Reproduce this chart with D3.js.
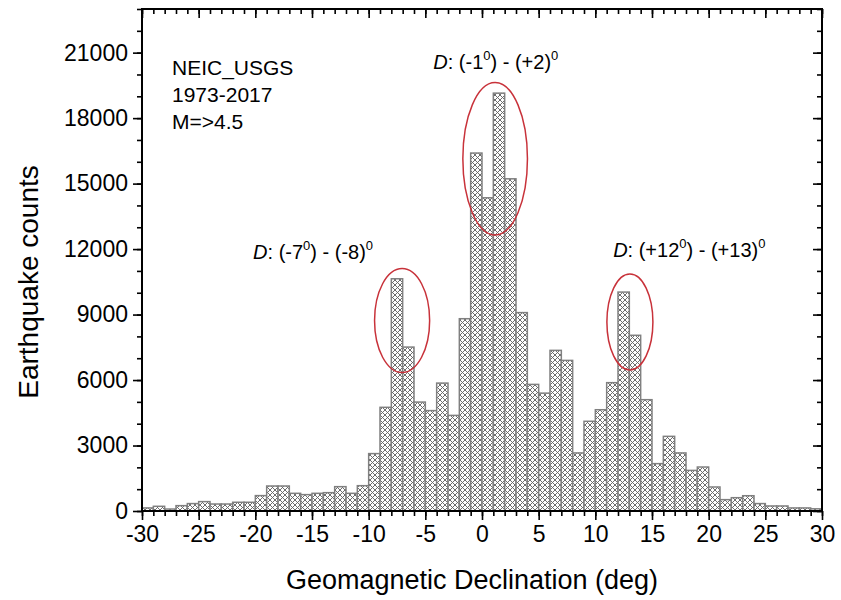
<!DOCTYPE html>
<html><head><meta charset="utf-8">
<script src="https://cdn.jsdelivr.net/npm/d3@7"></script>
<style>body{margin:0;background:#fff}svg{display:block}text{font-family:"Liberation Sans",Arial,sans-serif;fill:#000}</style>
</head><body>
<svg id="c" width="841" height="600"></svg>
<script>
const binStarts = d3.range(-30, 30, 1);
const counts = [140,215,90,245,340,430,320,320,400,400,
  705,1145,1145,810,750,810,840,1115,810,1160,
  2630,4750,10640,7510,4990,4600,5860,4380,8810,16400,
  14350,19145,15220,9090,5800,5400,7360,6900,2660,4110,
  4640,5880,10030,8050,5100,2170,3420,2660,1860,2015,
  1100,520,610,700,340,230,230,140,140,100];
const xTicks = [-30,-25,-20,-15,-10,-5,0,5,10,15,20,25,30];
const yTicks = [0,3000,6000,9000,12000,15000,18000,21000];
const infoLines = ["NEIC_USGS","1973-2017","M=>4.5"];
const ellipses = [
  {cx:-7.05, cy:8728, rx:2.43, ry:2382},
  {cx:1.16, cy:16137, rx:2.85, ry:3491},
  {cx:13.05, cy:8659, rx:2.03, ry:2199}
];
const notes = [
  {x:-20.2, y:11546, a:"(-7", b:") - (-8)"},
  {x:-4.3, y:20250, a:"(-1", b:") - (+2)"},
  {x:11.57, y:11637, a:"(+12", b:") - (+13)"}
];

const svg = d3.select("#c");
const L=142, R=822, T=9, B=511;
const x = d3.scaleLinear().domain([-30,30]).range([L,R]);
const y = d3.scaleLinear().domain([0,23000]).range([B,T]);

const defs = svg.append("defs");
const pat = defs.append("pattern").attr("id","hatch").attr("patternUnits","userSpaceOnUse")
  .attr("width",5).attr("height",5);
pat.append("rect").attr("width",5).attr("height",5).attr("fill","#fff");
pat.append("path").attr("d","M-1,-1 L6,6 M-1,6 L6,-1 M4,-1 L6,1 M-1,4 L1,6 M4,6 L6,4 M-1,1 L1,-1")
  .attr("stroke","#666").attr("stroke-width",0.95).attr("fill","none");

svg.append("g").selectAll("rect").data(binStarts).join("rect")
  .attr("x", d=>x(d)).attr("width", d=>x(d+1)-x(d))
  .attr("y", (d,i)=>y(counts[i])).attr("height", (d,i)=>y(0)-y(counts[i]))
  .attr("fill","url(#hatch)").attr("stroke","#808080").attr("stroke-width",1.5);

// axes
const fs = 23;
const fmt = d => String(d);
const gx = svg.append("g").attr("transform",`translate(0,${B})`)
  .call(d3.axisBottom(x).tickValues(xTicks).tickSize(9).tickPadding(6).tickFormat(fmt));
const gxm = svg.append("g").attr("transform",`translate(0,${B})`)
  .call(d3.axisBottom(x).tickValues(d3.range(-30,31,1)).tickSize(5).tickFormat(""));
const gy = svg.append("g").attr("transform",`translate(${L},0)`)
  .call(d3.axisLeft(y).tickValues(yTicks).tickSize(9).tickPadding(5).tickFormat(fmt));
const gym = svg.append("g").attr("transform",`translate(${L},0)`)
  .call(d3.axisLeft(y).tickValues(d3.range(0,23001,1000)).tickSize(5).tickFormat(""));
const gt = svg.append("g").attr("transform",`translate(0,${T})`)
  .call(d3.axisTop(x).tickValues(xTicks).tickSizeInner(-9).tickSizeOuter(0).tickFormat(""));
const gtm = svg.append("g").attr("transform",`translate(0,${T})`)
  .call(d3.axisTop(x).tickValues(d3.range(-30,31,1)).tickSizeInner(-5).tickSizeOuter(0).tickFormat(""));
const gr = svg.append("g").attr("transform",`translate(${R},0)`)
  .call(d3.axisRight(y).tickValues(yTicks).tickSizeInner(-9).tickSizeOuter(0).tickFormat(""));
const grm = svg.append("g").attr("transform",`translate(${R},0)`)
  .call(d3.axisRight(y).tickValues(d3.range(0,23001,1000)).tickSizeInner(-5).tickSizeOuter(0).tickFormat(""));
[gx,gxm,gy,gym,gt,gtm,gr,grm].forEach(g=>{
  g.select(".domain").remove();
  g.selectAll("line").attr("stroke","#000").attr("stroke-width",1.6);
  g.selectAll("text").attr("font-size",fs).attr("font-family","'Liberation Sans',Arial,sans-serif").attr("fill","#000");
});
svg.append("rect").attr("x",L).attr("y",T).attr("width",R-L).attr("height",B-T)
  .attr("fill","none").attr("stroke","#000").attr("stroke-width",2);

// titles
svg.append("text").attr("x",(L+R)/2-10).attr("y",589).attr("text-anchor","middle")
  .attr("font-size",27).text("Geomagnetic Declination (deg)");
svg.append("text").attr("transform",`translate(38,${(T+B)/2+22}) rotate(-90)`).attr("text-anchor","middle")
  .attr("font-size",28).text("Earthquake counts");

// info
svg.append("g").selectAll("text").data(infoLines).join("text")
  .attr("x",172).attr("y",(d,i)=>75+i*27).attr("font-size",21).text(d=>d);

// ellipses
svg.append("g").selectAll("ellipse").data(ellipses).join("ellipse")
  .attr("cx",d=>x(d.cx)).attr("cy",d=>y(d.cy))
  .attr("rx",d=>x(d.rx)-x(0)).attr("ry",d=>y(0)-y(d.ry))
  .attr("fill","none").attr("stroke","#c8323a").attr("stroke-width",1.5);

// notes
notes.forEach(n=>{
  const t = svg.append("text").attr("x",x(n.x)).attr("y",y(n.y)).attr("font-size",20);
  t.append("tspan").attr("font-style","italic").text("D");
  t.append("tspan").text(": "+n.a);
  t.append("tspan").attr("font-size",13).attr("dy",-9).text("0");
  t.append("tspan").attr("dy",9).text(n.b);
  t.append("tspan").attr("font-size",13).attr("dy",-9).text("0");
});
</script>
</body></html>
